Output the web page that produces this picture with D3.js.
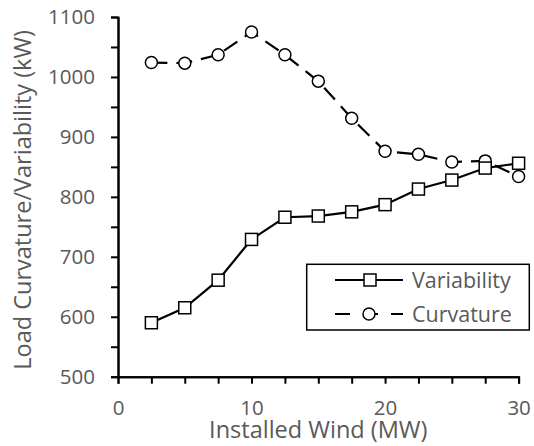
<!DOCTYPE html>
<html>
<head>
<meta charset="utf-8">
<script src="https://cdn.jsdelivr.net/npm/d3@7"></script>
<style>
  body { margin: 0; background: #fff; }
  svg text { font-family: "Open Sans", "Noto Sans", sans-serif; fill: #595959; }
</style>
</head>
<body>
<div id="chart"></div>
<script>
// Load curvature / variability vs installed wind

const windMW = [2.5, 5, 7.5, 10, 12.5, 15, 17.5, 20, 22.5, 25, 27.5, 30];
const variability = [590, 615, 661, 729, 766, 768, 775, 787, 813, 828, 848, 856];
const curvature = [1024, 1023, 1037, 1075, 1037, 993, 931, 876, 871, 858, 860, 834];

const xMajor = [0, 10, 20, 30];
const xMinor = [2.5, 5, 7.5, 12.5, 15, 17.5, 22.5, 25, 27.5];
const yMajor = [500, 600, 700, 800, 900, 1000, 1100];
const yMinor = [550, 650, 750, 850, 950, 1050];

const width = 534, height = 446;
const margin = { top: 17, right: 15.4, bottom: 69.3, left: 118 };

const svg = d3.select('#chart')
    .append('svg')
    .attr('width', width)
    .attr('height', height);

const x = d3.scaleLinear()
    .domain([0, 30])
    .range([margin.left, width - margin.right]);

const y = d3.scaleLinear()
    .domain([500, 1100])
    .range([height - margin.bottom, margin.top]);

const axisStyle = g => {
    g.select('.domain').attr('stroke', '#000').attr('stroke-width', 2);
    g.selectAll('.tick line').attr('stroke', '#000').attr('stroke-width', 2);
    g.selectAll('.tick text').style('font-size', '20.5px').attr('fill', '#595959');
};

// minor ticks
svg.append('g')
    .attr('transform', `translate(0,${y(500)})`)
    .call(d3.axisBottom(x).tickValues(xMinor).tickSize(7).tickFormat(''))
    .call(axisStyle);
svg.append('g')
    .attr('transform', `translate(${x(0)},0)`)
    .call(d3.axisLeft(y).tickValues(yMinor).tickSize(7).tickFormat(''))
    .call(axisStyle);

// major axes
svg.append('g')
    .attr('transform', `translate(0,${y(500)})`)
    .call(d3.axisBottom(x).tickValues(xMajor).tickSize(7).tickSizeOuter(0)
        .tickPadding(17).tickFormat(d3.format('d')))
    .call(axisStyle);
svg.append('g')
    .attr('transform', `translate(${x(0)},0)`)
    .call(d3.axisLeft(y).tickValues(yMajor).tickSize(7).tickSizeOuter(0)
        .tickPadding(16).tickFormat(d3.format('d')))
    .call(axisStyle);

// axis titles
svg.append('text')
    .attr('x', (x(0) + x(30)) / 2)
    .attr('y', 438)
    .attr('text-anchor', 'middle')
    .style('font-size', '23.5px')
    .text('Installed Wind (MW)');

svg.append('text')
    .attr('transform', `translate(31,${(y(500) + y(1100)) / 2 + 3}) rotate(-90)`)
    .attr('text-anchor', 'middle')
    .style('font-size', '23.5px')
    .text('Load Curvature/Variability (kW)');

const line = d3.line()
    .x((d, i) => x(windMW[i]))
    .y(d => y(d));

// curvature series
svg.append('path')
    .datum(curvature)
    .attr('d', line)
    .attr('fill', 'none')
    .attr('stroke', '#000')
    .attr('stroke-width', 2.2)
    .attr('stroke-dasharray', '16,9');

svg.append('g')
    .selectAll('circle')
    .data(curvature)
    .join('circle')
    .attr('cx', (d, i) => x(windMW[i]))
    .attr('cy', d => y(d))
    .attr('r', 6)
    .attr('fill', '#fff')
    .attr('stroke', '#000')
    .attr('stroke-width', 1.5);

// variability series
svg.append('path')
    .datum(variability)
    .attr('d', line)
    .attr('fill', 'none')
    .attr('stroke', '#000')
    .attr('stroke-width', 2.2);

svg.append('g')
    .selectAll('rect')
    .data(variability)
    .join('rect')
    .attr('x', (d, i) => x(windMW[i]) - 6)
    .attr('y', d => y(d) - 6)
    .attr('width', 12)
    .attr('height', 12)
    .attr('fill', '#fff')
    .attr('stroke', '#000')
    .attr('stroke-width', 1.5);

// legend
const legend = svg.append('g');
legend.append('rect')
    .attr('x', 306.7).attr('y', 264.3)
    .attr('width', 222.6).attr('height', 65.7)
    .attr('fill', '#fff')
    .attr('stroke', '#000')
    .attr('stroke-width', 1.5);

const items = [
    { name: 'Variability', marker: 'square', dash: null, ly: 280 },
    { name: 'Curvature', marker: 'circle', dash: '15,13', ly: 314 }
];

items.forEach(it => {
    legend.append('line')
        .attr('x1', 335).attr('x2', 403)
        .attr('y1', it.ly).attr('y2', it.ly)
        .attr('stroke', '#000')
        .attr('stroke-width', 2.2)
        .attr('stroke-dasharray', it.dash);
    if (it.marker === 'square') {
        legend.append('rect')
            .attr('x', 370 - 6).attr('y', it.ly - 6)
            .attr('width', 12).attr('height', 12)
            .attr('fill', '#fff').attr('stroke', '#000').attr('stroke-width', 1.5);
    } else {
        legend.append('circle')
            .attr('cx', 369).attr('cy', it.ly).attr('r', 6)
            .attr('fill', '#fff').attr('stroke', '#000').attr('stroke-width', 1.5);
    }
    legend.append('text')
        .attr('x', 412)
        .attr('y', it.ly + 8)
        .style('font-size', '21.5px')
        .text(it.name);
});
</script>
</body>
</html>
